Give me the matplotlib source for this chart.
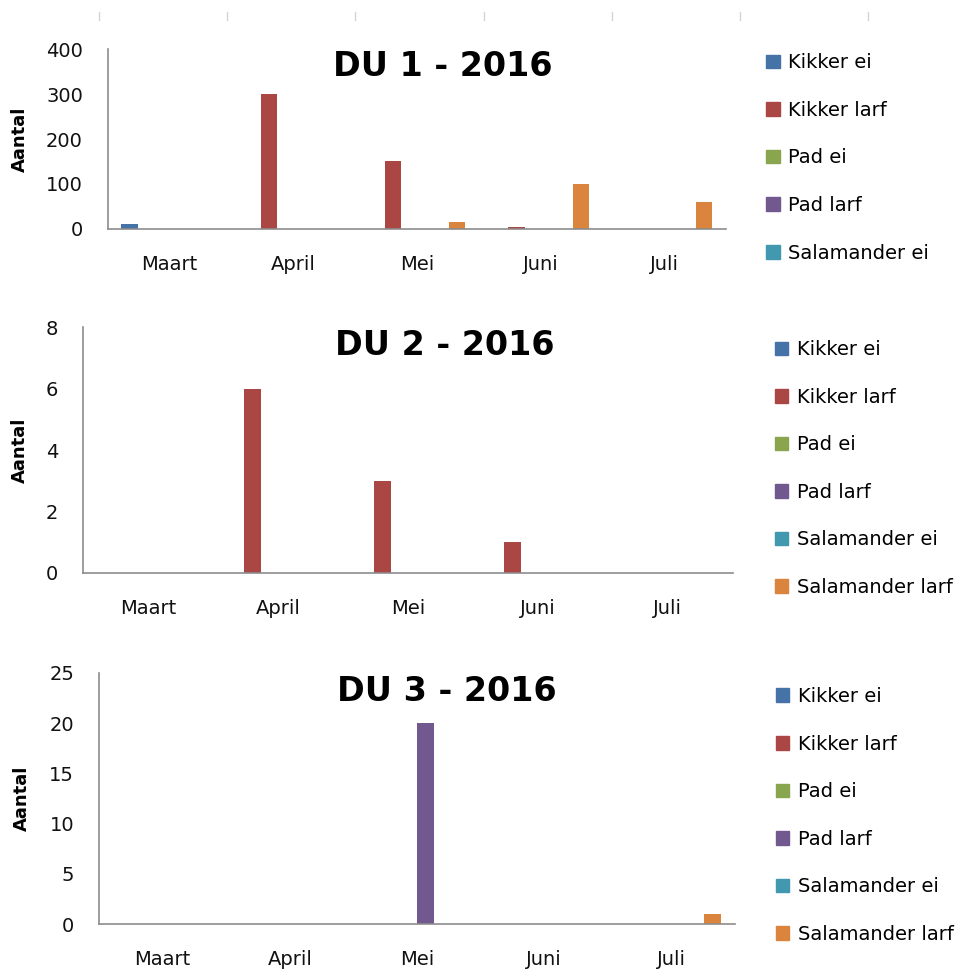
import numpy as np
import matplotlib.pyplot as plt
from matplotlib.patches import Patch
from matplotlib.lines import Line2D

plt.rcParams['font.family'] = ['DejaVu Sans']

# data
months = ['Maart', 'April', 'Mei', 'Juni', 'Juli']
series = ['Kikker ei', 'Kikker larf', 'Pad ei', 'Pad larf', 'Salamander ei', 'Salamander larf']
colors = ['#4572A7', '#AA4643', '#89A54E', '#71588F', '#4198AF', '#DB843D']

du1 = [
    [12, 0, 0, 0, 0],     # Kikker ei
    [0, 300, 150, 5, 0],  # Kikker larf
    [0, 0, 0, 0, 0],      # Pad ei
    [0, 0, 0, 0, 0],      # Pad larf
    [0, 0, 0, 0, 0],      # Salamander ei
    [0, 0, 15, 100, 60],  # Salamander larf
]
du2 = [
    [0, 0, 0, 0, 0],
    [0, 6, 3, 1, 0],
    [0, 0, 0, 0, 0],
    [0, 0, 0, 0, 0],
    [0, 0, 0, 0, 0],
    [0, 0, 0, 0, 0],
]
du3 = [
    [0, 0, 0, 0, 0],
    [0, 0, 0, 0, 0],
    [0, 0, 0, 0, 0],
    [0, 0, 20, 0, 0],
    [0, 0, 0, 0, 0],
    [0, 0, 0, 0, 1],
]

titles = ['DU 1 - 2016', 'DU 2 - 2016', 'DU 3 - 2016']
ymax = [400, 8, 25]
ystep = [100, 2, 5]
datasets = [du1, du2, du3]

# layout (figure fractions)
axes_pos = [
    [0.111, 0.7637, 0.636, 0.1857],
    [0.0854, 0.4087, 0.6686, 0.2538],
    [0.1019, 0.0464, 0.6543, 0.2591],
]
title_pos = [(0.455, 0.931), (0.458, 0.6435), (0.46, 0.2865)]
legend_pos = [(0.780, 0.953), (0.789, 0.657), (0.790, 0.299)]
legend_n = [5, 6, 6]
ylabel_x = [20, 20, 22]  # pixel centre of "Aantal"

fig = plt.figure(figsize=(9.72, 9.69), dpi=100)

# faint column markers at the very top
for xm in [99, 227, 355, 484, 612, 740, 868]:
    fig.add_artist(Line2D([xm / 972, xm / 972], [1 - 12 / 969, 1 - 20 / 969],
                          color='#d4d4d4', lw=1))

x = np.arange(len(months))
w = 0.13
for k, data in enumerate(datasets):
    ax = fig.add_axes(axes_pos[k])
    for i, s in enumerate(series):
        ax.bar(x + (i - 2.5) * w, data[i], width=w, color=colors[i])
    ax.set_xlim(-0.5, len(months) - 0.5)
    ax.set_ylim(0, ymax[k])
    ax.set_yticks(np.arange(0, ymax[k] + 1, ystep[k]))
    ax.set_xticks(x)
    ax.set_xticklabels(months)
    ax.tick_params(axis='both', length=0, labelsize=14, colors='#111111')
    ax.tick_params(axis='x', pad=19)
    ax.tick_params(axis='y', pad=18)
    for sp in ['top', 'right']:
        ax.spines[sp].set_visible(False)
    for sp in ['left', 'bottom']:
        ax.spines[sp].set_color('#8c8c8c')
        ax.spines[sp].set_linewidth(1.2)
    ax.set_ylabel('Aantal', fontsize=13, fontweight='bold', va='center')
    pos = axes_pos[k]
    ax.yaxis.set_label_coords((ylabel_x[k] / 972 - pos[0]) / pos[2], 0.5)
    fig.text(title_pos[k][0], title_pos[k][1], titles[k], fontsize=24,
             fontweight='bold', ha='center', va='center')

    handles = [Patch(color=colors[i], label=series[i]) for i in range(legend_n[k])]
    fig.legend(handles=handles, loc='upper left', bbox_to_anchor=legend_pos[k],
               frameon=False, fontsize=14, labelspacing=1.47, handlelength=0.7,
               handleheight=0.7, handletextpad=0.45, borderaxespad=0)

fig.savefig('out.png', dpi=100)
